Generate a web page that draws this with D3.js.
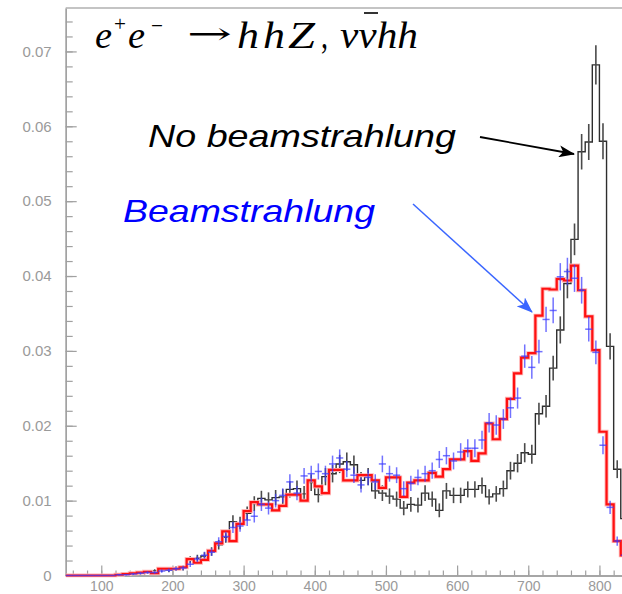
<!DOCTYPE html>
<html>
<head>
<meta charset="utf-8">
<script src="https://cdn.jsdelivr.net/npm/d3@7"></script>
<style>
  html, body { margin: 0; padding: 0; background: #ffffff; }
  svg { display: block; }
</style>
</head>
<body>
<svg id="chart"></svg>
<script>
"use strict";

const width = 622;
const height = 594;

// histogram bins (left edge, GeV), width 10
const bin_width = 10;
const bin_starts = [
    50, 60, 70, 80, 90, 100, 110, 120, 130, 140,
    150, 160, 170, 180, 190, 200, 210, 220, 230, 240,
    250, 260, 270, 280, 290, 300, 310, 320, 330, 340,
    350, 360, 370, 380, 390, 400, 410, 420, 430, 440,
    450, 460, 470, 480, 490, 500, 510, 520, 530, 540,
    550, 560, 570, 580, 590, 600, 610, 620, 630, 640,
    650, 660, 670, 680, 690, 700, 710, 720, 730, 740,
    750, 760, 770, 780, 790, 800, 810, 820, 830
];

// black: no beamstrahlung
const no_beam = [
    0, 0, 0, 0, 0, 0, 0, 0.0001, 0.0001, 0.0002,
    0.0003, 0.0005, 0.0006, 0.0008, 0.0007, 0.0009, 0.0010, 0.0021, 0.0023, 0.0026,
    0.0032, 0.0041, 0.0051, 0.0072, 0.0070, 0.0083, 0.0096, 0.0103, 0.0101, 0.0104,
    0.0105, 0.0115, 0.0116, 0.0109, 0.0124, 0.0108, 0.0132, 0.0136, 0.0149, 0.0152,
    0.0148, 0.0127, 0.0132, 0.0113, 0.0110, 0.0106, 0.0102, 0.0090, 0.0095, 0.0094,
    0.0110, 0.0102, 0.0087, 0.0113, 0.0107, 0.0107, 0.0115, 0.0115, 0.0120, 0.0105,
    0.0109, 0.0116, 0.0140, 0.0150, 0.0164, 0.0162, 0.0216, 0.0226, 0.0277, 0.0328,
    0.0390, 0.0449, 0.0566, 0.0579, 0.0682, 0.0580, 0.0306, 0.0142, 0.0076
];

// red: beamstrahlung (histogram)
const beam_hist = [
    0, 0, 0, 0, 0, 0, 0, 0.0001, 0.0002, 0.0003,
    0.0004, 0.0005, 0.0003, 0.0009, 0.0009, 0.0009, 0.0011, 0.0022, 0.0017, 0.0021,
    0.0033, 0.0043, 0.0059, 0.0046, 0.0069, 0.0086, 0.0098, 0.0095, 0.0095, 0.0087,
    0.0093, 0.0108, 0.0108, 0.0100, 0.0127, 0.0119, 0.0110, 0.0141, 0.0141, 0.0127,
    0.0127, 0.0134, 0.0134, 0.0127, 0.0117, 0.0131, 0.0131, 0.0105, 0.0124, 0.0127,
    0.0127, 0.0137, 0.0132, 0.0142, 0.0155, 0.0155, 0.0166, 0.0153, 0.0163, 0.0203,
    0.0182, 0.0209, 0.0236, 0.0270, 0.0291, 0.0297, 0.0347, 0.0383, 0.0382, 0.0396,
    0.0394, 0.0414, 0.0381, 0.0346, 0.0301, 0.0192, 0.0095, 0.0046, 0.0027
];

// blue: beamstrahlung (points with errors)
const beam_points = [
    0, 0, 0, 0, 0, 0, 0, 0.0001, 0.0001, 0.0002,
    0.0003, 0.0004, 0.0004, 0.0006, 0.0007, 0.0009, 0.0010, 0.0015, 0.0022, 0.0027,
    0.0031, 0.0045, 0.0052, 0.0064, 0.0066, 0.0074, 0.0079, 0.0095, 0.0090, 0.0100,
    0.0107, 0.0125, 0.0110, 0.0133, 0.0136, 0.0139, 0.0136, 0.0149, 0.0157, 0.0142,
    0.0134, 0.0121, 0.0131, 0.0125, 0.0149, 0.0136, 0.0134, 0.0116, 0.0123, 0.0131,
    0.0136, 0.0140, 0.0155, 0.0160, 0.0153, 0.0165, 0.0170, 0.0170, 0.0181, 0.0204,
    0.0201, 0.0209, 0.0224, 0.0237, 0.0293, 0.0278, 0.0299, 0.0342, 0.0354, 0.0399,
    0.0406, 0.0397, 0.0381, 0.0329, 0.0298, 0.0174, 0.0091, 0.0046, 0.0027
];

// events per sample, gives the poisson error of a normalised bin
const no_beam_events = 10000;
const beam_events = 12000;

const x_ticks = [100, 200, 300, 400, 500, 600, 700, 800];
const x_labels = ["100", "200", "300", "400", "500", "600", "700", "800"];
const y_ticks = [0, 0.01, 0.02, 0.03, 0.04, 0.05, 0.06, 0.07];
const y_labels = ["0", "0.01", "0.02", "0.03", "0.04", "0.05", "0.06", "0.07"];

const axis_color = "#a0a0a0";


const svg = d3.select("#chart")
    .attr("width", width)
    .attr("height", height);

const x = d3.scaleLinear().domain([50, 832]).range([65.7, 622.2]);
const y = d3.scaleLinear().domain([0, 0.0758]).range([575.5, 8]);

const defs = svg.append("defs");

defs.append("clipPath")
    .attr("id", "plot_clip")
    .append("rect")
    .attr("x", x.range()[0])
    .attr("y", y.range()[1] - 2)
    .attr("width", x.range()[1] - x.range()[0])
    .attr("height", y.range()[0] - y.range()[1] + 4);

// arrow heads
[["head_black", "#000000"], ["head_blue", "#3a66ff"]].forEach(([id, col]) => {
    defs.append("marker")
        .attr("id", id)
        .attr("viewBox", "0 0 16 12")
        .attr("refX", 15)
        .attr("refY", 6)
        .attr("markerWidth", 16)
        .attr("markerHeight", 12)
        .attr("markerUnits", "userSpaceOnUse")
        .attr("orient", "auto")
        .append("path")
        .attr("d", "M0,0 L16,6 L0,12 L4,6 Z")
        .attr("fill", col);
});


// axes
const y_axis = d3.axisLeft(y)
    .tickValues(y_ticks)
    .tickFormat((d, i) => y_labels[i])
    .tickSize(-11)
    .tickSizeOuter(0)
    .tickPadding(14);

const y_minor = d3.axisLeft(y)
    .tickValues(d3.range(0.002, 0.0757, 0.002))
    .tickFormat("")
    .tickSize(-7)
    .tickSizeOuter(0);

const x_axis = d3.axisBottom(x)
    .tickValues(x_ticks)
    .tickFormat((d, i) => x_labels[i])
    .tickSize(-10)
    .tickSizeOuter(0)
    .tickPadding(6);

const x_minor = d3.axisBottom(x)
    .tickValues(d3.range(60, 831, 20))
    .tickFormat("")
    .tickSize(-5)
    .tickSizeOuter(0);

function styleAxis(g, size) {
    g.select(".domain").attr("stroke", axis_color).attr("stroke-width", 1.3);
    g.selectAll(".tick line").attr("stroke", axis_color).attr("stroke-width", 1.2);
    g.selectAll(".tick text")
        .attr("fill", "#9a9a9a")
        .style("font-family", "'Liberation Sans', Arial, sans-serif")
        .style("font-size", size + "px");
}

svg.append("g").attr("transform", `translate(${x.range()[0]},0)`).call(y_minor).call(styleAxis, 15);
svg.append("g").attr("transform", `translate(${x.range()[0]},0)`).call(y_axis).call(styleAxis, 15);
svg.append("g").attr("transform", `translate(0,${y.range()[0]})`).call(x_minor).call(styleAxis, 14);
svg.append("g").attr("transform", `translate(0,${y.range()[0]})`).call(x_axis).call(styleAxis, 14);

// top frame
svg.append("line")
    .attr("x1", x.range()[0])
    .attr("x2", width)
    .attr("y1", y.range()[1])
    .attr("y2", y.range()[1])
    .attr("stroke", "#b0b0b0")
    .attr("stroke-width", 1.3);


// histograms
const plot = svg.append("g").attr("clip-path", "url(#plot_clip)");

function stepPoints(values) {
    const pts = [[bin_starts[0], 0]];
    values.forEach((v, i) => {
        pts.push([bin_starts[i], v]);
        pts.push([bin_starts[i] + bin_width, v]);
    });
    return pts;
}

const step_line = d3.line()
    .x(d => x(d[0]))
    .y(d => y(d[1]));

// black histogram with error bars
plot.append("path")
    .attr("d", step_line(stepPoints(no_beam)))
    .attr("fill", "none")
    .attr("stroke", "#2e2e2e")
    .attr("stroke-width", 1.4);

plot.append("g")
    .selectAll("line")
    .data(no_beam.map((v, i) => ({ start: bin_starts[i], v: v })).filter(d => d.v > 0))
    .enter()
    .append("line")
    .attr("x1", d => x(d.start + bin_width / 2))
    .attr("x2", d => x(d.start + bin_width / 2))
    .attr("y1", d => y(d.v + Math.sqrt(d.v / no_beam_events)))
    .attr("y2", d => y(d.v - Math.sqrt(d.v / no_beam_events)))
    .attr("stroke", "#4a4a4a")
    .attr("stroke-width", 1.6);

// red histogram
plot.append("path")
    .attr("d", step_line(stepPoints(beam_hist)))
    .attr("fill", "none")
    .attr("stroke", "#ffb4b4")
    .attr("stroke-width", 4);

plot.append("path")
    .attr("d", step_line(stepPoints(beam_hist)))
    .attr("fill", "none")
    .attr("stroke", "#ff1010")
    .attr("stroke-width", 2.2);

// blue crosses
const cross = plot.append("g")
    .selectAll("g")
    .data(beam_points.map((v, i) => ({ start: bin_starts[i], v: v })))
    .enter()
    .append("g")
    .attr("stroke", "#3c3cff")
    .attr("stroke-opacity", 0.72)
    .attr("stroke-width", 1.5);

cross.append("line")
    .attr("x1", d => x(d.start))
    .attr("x2", d => x(d.start + bin_width))
    .attr("y1", d => y(d.v))
    .attr("y2", d => y(d.v));

cross.filter(d => d.v > 0)
    .append("line")
    .attr("x1", d => x(d.start + bin_width / 2))
    .attr("x2", d => x(d.start + bin_width / 2))
    .attr("y1", d => y(d.v + Math.sqrt(d.v / beam_events)))
    .attr("y2", d => y(d.v - Math.sqrt(d.v / beam_events)));


// formula e+e- -> hhZ, vvhh (one piece per symbol)
const serif = "'Liberation Serif', 'Times New Roman', serif";
const formula = [
    { t: "e", x: 95, y: 48, size: 38, italic: true, w: 17, font: serif },
    { t: "+", x: 114, y: 31, size: 22, italic: false, w: 12, font: serif },
    { t: "e", x: 128, y: 48, size: 38, italic: true, w: 17, font: serif },
    { t: "\u2212", x: 151, y: 33, size: 22, italic: false, w: 12, font: serif },
    { t: "\u2192", x: 187, y: 44, size: 30, italic: false, w: 45, font: "'DejaVu Serif', serif" },
    { t: "h", x: 237, y: 48, size: 38, italic: true, w: 22, font: serif },
    { t: "h", x: 263, y: 48, size: 38, italic: true, w: 22, font: serif },
    { t: "Z", x: 288, y: 48, size: 38, italic: true, w: 27, font: serif },
    { t: ",", x: 321, y: 48, size: 37, italic: false, w: 7, font: serif },
    { t: "vvhh", x: 340, y: 48, size: 37, italic: true, w: 78, font: serif }
];

svg.append("g")
    .selectAll("text")
    .data(formula)
    .enter()
    .append("text")
    .attr("x", d => d.x)
    .attr("y", d => d.y)
    .attr("textLength", d => d.w)
    .attr("lengthAdjust", "spacingAndGlyphs")
    .style("font-family", d => d.font)
    .style("font-size", d => d.size + "px")
    .style("font-style", d => d.italic ? "italic" : "normal")
    .attr("fill", "#000")
    .text(d => d.t);

// bar over the second v
svg.append("line")
    .attr("x1", 364)
    .attr("x2", 378)
    .attr("y1", 13)
    .attr("y2", 13)
    .attr("stroke", "#000")
    .attr("stroke-width", 1.6);


// labels and arrows
svg.append("text")
    .attr("x", 148)
    .attr("y", 147)
    .attr("textLength", 308)
    .attr("lengthAdjust", "spacingAndGlyphs")
    .style("font-family", "'Liberation Sans', Arial, sans-serif")
    .style("font-style", "italic")
    .style("font-size", "32px")
    .attr("fill", "#000")
    .text("No beamstrahlung");

svg.append("text")
    .attr("x", 123)
    .attr("y", 222)
    .attr("textLength", 252)
    .attr("lengthAdjust", "spacingAndGlyphs")
    .style("font-family", "'Liberation Sans', Arial, sans-serif")
    .style("font-style", "italic")
    .style("font-size", "32px")
    .attr("fill", "#0000ff")
    .text("Beamstrahlung");

svg.append("line")
    .attr("x1", 480).attr("y1", 137)
    .attr("x2", 574).attr("y2", 154)
    .attr("stroke", "#000")
    .attr("stroke-width", 1.8)
    .attr("marker-end", "url(#head_black)");

svg.append("line")
    .attr("x1", 413).attr("y1", 204)
    .attr("x2", 532).attr("y2", 312)
    .attr("stroke", "#3a66ff")
    .attr("stroke-width", 1.5)
    .attr("marker-end", "url(#head_blue)");
</script>
</body>
</html>
